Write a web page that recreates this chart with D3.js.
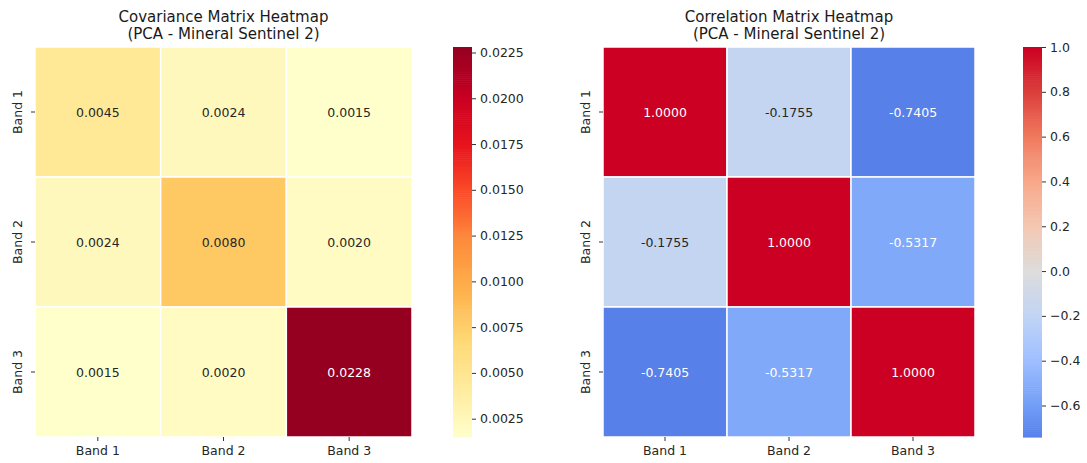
<!DOCTYPE html>
<html>
<head>
    <meta charset="utf-8">
    <script src="https://d3js.org/d3.v7.min.js"></script>
    <style>
        body { margin: 0; background: #fff; }
        text { font-family: "DejaVu Sans", sans-serif; }
    </style>
</head>
<body>
    <div id="chart"></div>

    <script>
        // data
        const bands = ["Band 1", "Band 2", "Band 3"];
        const covValues = [
            [0.0045, 0.0024, 0.0015],
            [0.0024, 0.0080, 0.0020],
            [0.0015, 0.0020, 0.0228]
        ];
        const corrValues = [
            [1.0000, -0.1755, -0.7405],
            [-0.1755, 1.0000, -0.5317],
            [-0.7405, -0.5317, 1.0000]
        ];
        const covTicks = [0.0025, 0.0050, 0.0075, 0.0100, 0.0125, 0.0150, 0.0175, 0.0200, 0.0225];
        const corrTicks = [-0.6, -0.4, -0.2, 0.0, 0.2, 0.4, 0.6, 0.8, 1.0];
        const ylorrd = ["#ffffcc", "#ffeb9c", "#fed976", "#feb24c", "#fd8d3c", "#fc4e2a", "#e8141c", "#c70022", "#950021"];
        const coolwarm = ["#3b4cc0", "#4d73e3", "#729ef8", "#9ebeff", "#c0d4f5", "#dddcdc", "#f4c8b2", "#f8a88a", "#f07a5e", "#dc3f3c", "#cc0022"];

        const W = 1087, H = 463;
        const svg = d3.select("#chart").append("svg")
            .attr("width", W)
            .attr("height", H);

        function piecewise(colors) {
            return d3.scaleLinear()
                .domain(d3.range(colors.length).map(i => i / (colors.length - 1)))
                .range(colors)
                .interpolate(d3.interpolateRgb)
                .clamp(true);
        }

        // seaborn style text colour choice
        function textColor(c) {
            const rgb = d3.rgb(c);
            const lin = v => { v /= 255; return v <= 0.03928 ? v / 12.92 : Math.pow((v + 0.055) / 1.055, 2.4); };
            const lum = 0.2126 * lin(rgb.r) + 0.7152 * lin(rgb.g) + 0.0722 * lin(rgb.b);
            return lum > 0.408 ? "#262626" : "#ffffff";
        }

        function heatmap(opt) {
            const g = svg.append("g");
            const x = d3.scaleBand().domain(bands).range([opt.x0, opt.x1]);
            const y = d3.scaleBand().domain(bands).range([opt.y0, opt.y1]);

            const cells = [];
            opt.values.forEach((row, i) => row.forEach((v, j) => cells.push({ r: bands[i], c: bands[j], v: v })));

            g.selectAll("rect.cell")
                .data(cells)
                .join("rect")
                .attr("class", "cell")
                .attr("x", d => x(d.c))
                .attr("y", d => y(d.r))
                .attr("width", x.bandwidth())
                .attr("height", y.bandwidth())
                .attr("fill", d => opt.color(d.v))
                .attr("stroke", "#fff")
                .attr("stroke-width", 1.5);

            g.selectAll("text.ann")
                .data(cells)
                .join("text")
                .attr("class", "ann")
                .attr("x", d => x(d.c) + x.bandwidth() / 2)
                .attr("y", d => y(d.r) + y.bandwidth() / 2)
                .attr("text-anchor", "middle")
                .attr("dominant-baseline", "central")
                .attr("font-size", 12.5)
                .attr("fill", d => textColor(opt.color(d.v)))
                .text(d => d.v.toFixed(4));

            // axes
            const xAxis = g.append("g")
                .attr("transform", "translate(0," + opt.y1 + ")")
                .call(d3.axisBottom(x).tickSize(4).tickPadding(5));
            const yAxis = g.append("g")
                .attr("transform", "translate(" + opt.x0 + ",0)")
                .call(d3.axisLeft(y).tickSize(4).tickPadding(5));
            [xAxis, yAxis].forEach(a => {
                a.select(".domain").remove();
                a.selectAll("line").attr("stroke", "#333");
                a.selectAll("text").attr("font-size", 12.5).attr("fill", "#262626")
                    .style("font-family", "DejaVu Sans");
            });
            yAxis.selectAll("text")
                .attr("transform", "rotate(-90)")
                .attr("text-anchor", "middle")
                .attr("x", 0)
                .attr("y", -13)
                .attr("dy", 0);

            // title
            const cx = (opt.x0 + opt.x1) / 2;
            g.append("text").attr("x", cx).attr("y", 22).attr("text-anchor", "middle")
                .attr("font-size", 15).attr("fill", "#1a1a1a").text(opt.title);
            g.append("text").attr("x", cx).attr("y", 39).attr("text-anchor", "middle")
                .attr("font-size", 15).attr("fill", "#1a1a1a").text("(PCA - Mineral Sentinel 2)");

            // colour bar
            const cb = svg.append("g");
            const cbScale = d3.scaleLinear().domain(opt.domain).range([opt.y1, opt.y0]);
            const steps = d3.range(0, 200);
            const step = (opt.y1 - opt.y0) / steps.length;
            cb.selectAll("rect")
                .data(steps)
                .join("rect")
                .attr("x", opt.cbx)
                .attr("y", d => opt.y1 - (d + 1) * step)
                .attr("width", 19)
                .attr("height", step + 0.6)
                .attr("fill", d => opt.color(opt.domain[0] + (d + 0.5) / steps.length * (opt.domain[1] - opt.domain[0])));
            const cbAxis = cb.append("g")
                .attr("transform", "translate(" + (opt.cbx + 19) + ",0)")
                .call(d3.axisRight(cbScale).tickValues(opt.ticks).tickFormat(opt.fmt).tickSize(4).tickPadding(4));
            cbAxis.select(".domain").remove();
            cbAxis.selectAll("line").attr("stroke", "#333");
            cbAxis.selectAll("text").attr("font-size", 12.5).attr("fill", "#262626")
                .style("font-family", "DejaVu Sans");
        }

        const covDomain = [0.0015, 0.0228];
        const covT = piecewise(ylorrd);
        heatmap({
            values: covValues,
            x0: 35, x1: 412, y0: 47, y1: 437,
            cbx: 453,
            domain: covDomain,
            ticks: covTicks,
            fmt: d3.format(".4f"),
            title: "Covariance Matrix Heatmap",
            color: v => covT((v - covDomain[0]) / (covDomain[1] - covDomain[0]))
        });

        const corrDomain = [-0.7405, 1.0];
        const cwT = piecewise(coolwarm);
        heatmap({
            values: corrValues,
            x0: 603, x1: 975, y0: 47, y1: 437,
            cbx: 1023,
            domain: corrDomain,
            ticks: corrTicks,
            fmt: d3.format(".1f"),
            title: "Correlation Matrix Heatmap",
            color: v => cwT(0.5 + v / 2)
        });
    </script>
</body>
</html>
